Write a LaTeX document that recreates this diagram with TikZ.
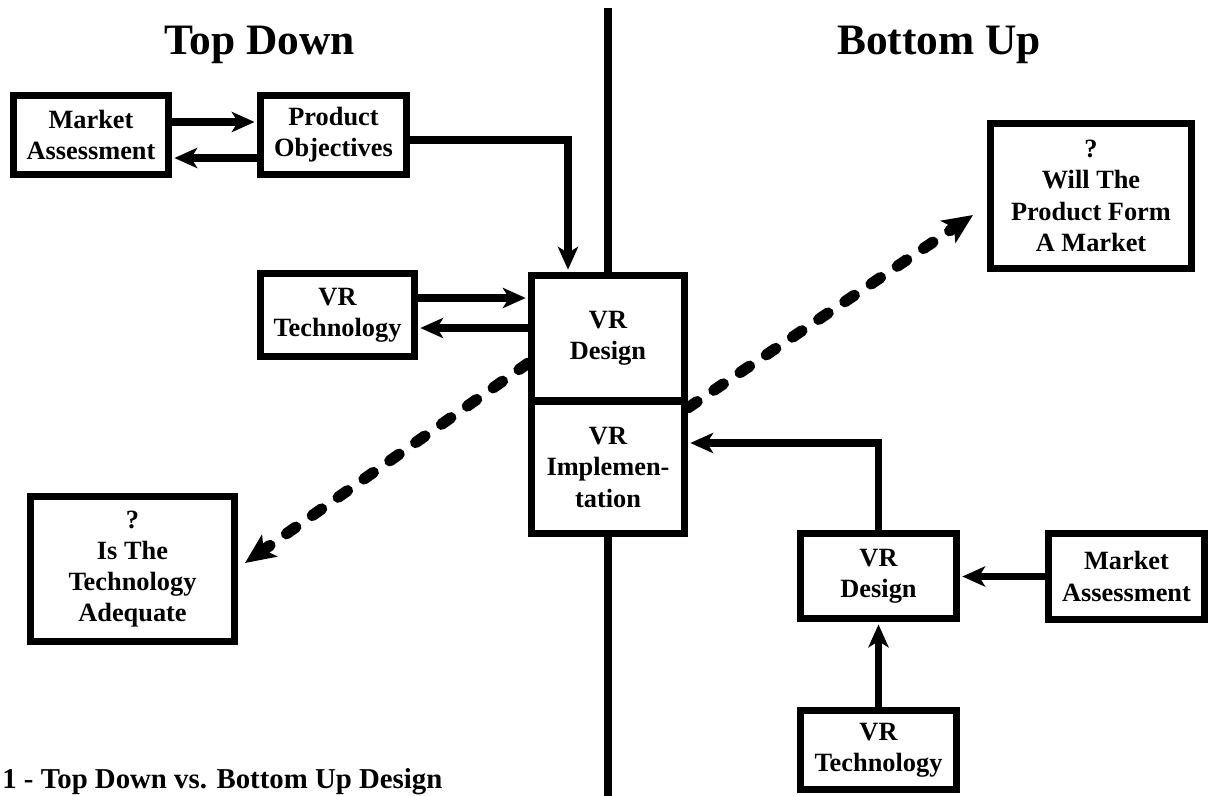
\documentclass[tikz,border=0pt]{standalone}
\usepackage{fontspec}
\setmainfont{Liberation Serif}
\usetikzlibrary{arrows.meta,calc}
\newcommand\boxfont{\bfseries\fontsize{15}{17.8}\selectfont}
\newcommand\headfont{\bfseries\fontsize{24.7}{28}\selectfont}
\newcommand\capfont{\bfseries\fontsize{16.4}{19}\selectfont}
\begin{document}
\begin{tikzpicture}[x=0.02cm,y=-0.02cm,
  box/.style={draw, line width=4pt, fill=white, inner sep=0pt, align=center, font=\boxfont},
  bx/.style 2 args={box, minimum width=#1, minimum height=#2},
  arr/.style={line width=4pt, -{Stealth[length=13pt,width=11.5pt,inset=3.5pt]}, shorten >=1.5pt},
  dasharr/.style={line width=6.4pt, line cap=round, dash pattern=on 6.5pt off 11.5pt,
    -{Stealth[length=17pt,width=15pt,inset=4pt]}},
  divider/.style={line width=4.8pt},
  heading/.style={anchor=base, font=\headfont, inner sep=0pt}]
\useasboundingbox (0,0) rectangle (1213,795);
\clip (0,0) rectangle (1213,795);

% divider between the two approaches
\coordinate (divtop) at (608,8);
\coordinate (divbot) at (608,800);
\draw[divider] (divtop) -- (divbot);

% headings and caption
\node[heading] (hleft) at (260,54) {Top Down};
\node[heading] (hright) at (939,54) {Bottom Up};
\node[anchor=base west, font=\capfont, inner sep=0pt] (cap) at (2,788) {1 - Top Down vs. Bottom Up Design};

% top-down side
\node[bx={87.9pt}{44.8pt}] (ma1) at (91,135) {Market\\Assessment};
\node[bx={82.8pt}{44.8pt}] (po) at (333.5,135) {Product\\Objectives};
\node[bx={87.3pt}{47.1pt}] (vt1) at (337.5,315) {VR\\Technology};
\node[bx={115.6pt}{82.2pt}] (adeq) at (132.5,569) {?\\Is The\\Technology\\Adequate};

% centre stack
\node[bx={86.7pt}{71.1pt}] (des) at (608,338.25) {VR\\Design};
\node[bx={86.7pt}{75.1pt}] (imp) at (608,467.25) {VR\\Implemen-\\tation};

% bottom-up side
\node[bx={114pt}{82.2pt}] (will) at (1091,196) {?\\Will The\\Product Form\\A Market};
\node[bx={88.4pt}{48.2pt}] (des2) at (878.5,576) {VR\\Design};
\node[bx={88.4pt}{48.8pt}] (ma2) at (1126.5,576.5) {Market\\Assessment};
\node[bx={88.4pt}{44.8pt}] (vt2) at (878.5,750) {VR\\Technology};

% dashed question arrows
\coordinate (tipL) at (245,563);
\coordinate (tipR) at (973,215);
\draw[dasharr] (des.west |- 0,363) -- (tipL);
\draw[dasharr] (imp.east |- 0,408) -- (tipR);

% solid connectors
\draw[arr] (ma1.east |- 0,122) -- (po.west |- 0,122);
\draw[arr] (po.west |- 0,158) -- (ma1.east |- 0,158);
\draw[arr] (po.east |- 0,140) -| ($(des.north)+(-40,0)$);
\draw[arr] (vt1.east |- 0,298) -- (des.west |- 0,298);
\draw[arr] (des.west |- 0,328) -- (vt1.east |- 0,328);
\draw[arr] (des2.north) |- (imp.east |- 0,443);
\draw[arr] (ma2.west) -- (des2.east |- ma2.west);
\draw[arr] (vt2.north) -- (des2.south);
\end{tikzpicture}
\end{document}
